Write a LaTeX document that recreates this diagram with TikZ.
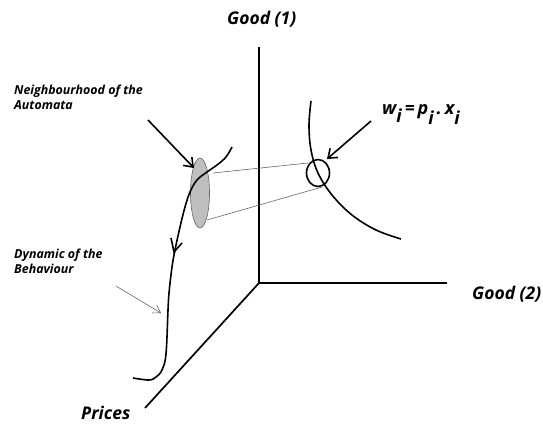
\documentclass[tikz,border=0pt]{standalone}
\usepackage{fontspec}
\setmainfont{Open Sans}
\usetikzlibrary{arrows.meta,shapes.geometric}
\begin{document}
\begin{tikzpicture}[x=1pt,y=-1pt,
  axis/.style={line width=1.7pt},
  curve/.style={line width=1.6pt},
  thinline/.style={line width=0.6pt, draw=black!60},
  bigarrow/.style={line width=1.6pt, -{Straight Barb[length=8pt,width=12pt,line width=1.6pt]}},
  smallarrow/.style={line width=0.6pt, draw=black!60, -{Straight Barb[length=7pt,width=9pt,line width=0.6pt]}},
  lbl/.style={font=\fontsize{12.4}{15}\selectfont\bfseries\itshape, align=left, inner sep=0pt},
  axlbl/.style={font=\fontsize{17.5}{18}\selectfont\bfseries\itshape, inner sep=0pt}]
\useasboundingbox (0,0) rectangle (543,424);
% axes
\coordinate (O) at (259,283);
\coordinate (Ytop) at (259,47);
\coordinate (Xend) at (447,283);
\coordinate (Zend) at (145,408);
\draw[axis] (Ytop) -- (O) -- (Xend);
\draw[axis] (O) -- (Zend);
\node[axlbl, anchor=west] (g1) at (227,19) {Good (1)};
\node[axlbl, anchor=west] (g2) at (472,294) {Good (2)};
\node[axlbl, anchor=west] (pr) at (81,413) {Prices};
% indifference curve
\draw[curve] plot[smooth, tension=0.6] coordinates {(311,101) (309,125) (311,150) (318,173) (332,195) (352,215) (376,230) (401,239)};
% neighbourhood ellipse
\node[draw=black!60, line width=0.6pt, fill=black!25, ellipse, minimum width=19pt, minimum height=70pt, inner sep=0pt] (nb) at (200,193) {};
% trajectory
\draw[curve] plot[smooth, tension=0.6] coordinates {(232,147) (226,157) (217,165) (207,172) (197,180) (190,192) (185,207) (180,227) (175,250) (172,267) (169,293) (168,310) (166,354) (162,370) (156,377) (149,380) (133,378)};
\draw[curve] (171,238) -- (174,252) -- (182,243);
% small circle
\node[draw, line width=1.6pt, ellipse, minimum width=23pt, minimum height=27pt, inner sep=0pt] (c) at (318,173) {};
% projection lines
\coordinate (e1) at (213,173);
\coordinate (e2) at (207,220);
\coordinate (c1) at (308,163);
\coordinate (c2) at (322,187);
\draw[thinline] (e1) -- (c1);
\draw[thinline] (e2) -- (c2);
% labels
\node[lbl, anchor=north west] (nlab) at (14,85) {Neighbourhood of the\\Automata};
\coordinate (na) at (148,120);
\coordinate (nt) at (194,168);
\draw[bigarrow] (na) -- (nt);
\node[lbl, anchor=north west] (dlab) at (14,249) {Dynamic of the\\Behaviour};
\coordinate (da) at (116,286);
\coordinate (dt) at (161,313);
\draw[smallarrow] (da) -- (dt);
% formula
\node[inner sep=0pt, font=\fontsize{18}{20}\selectfont\bfseries\itshape] (f) at (421,114)
  {w\raisebox{-8pt}{i}\,=\,p\raisebox{-10pt}{i}\,.\,x\raisebox{-10pt}{i}};
\coordinate (fa) at (371,121);
\coordinate (ft) at (327,159);
\draw[bigarrow] (fa) -- (ft);
\end{tikzpicture}
\end{document}
